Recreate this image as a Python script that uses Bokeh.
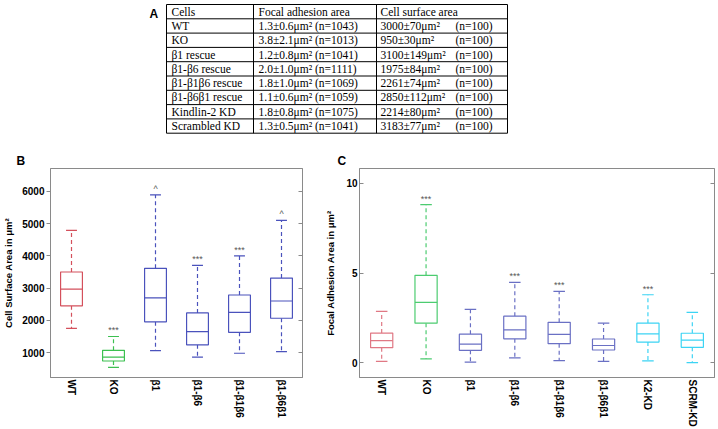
from bokeh.plotting import figure
from bokeh.models import (Range1d, FactorRange, LinearAxis, FixedTicker,
                          ColumnDataSource, CustomJSTickFormatter)
from bokeh.layouts import column, row
from bokeh.embed import file_html
from bokeh.resources import INLINE
from bokeh.core.properties import value

# ---------------- Data ----------------
# Table A
table_header = ["Cells", "Focal adhesion area", "Cell surface area"]
cells = ["WT", "KO", "β1 rescue", "β1-β6 rescue", "β1-β1β6 rescue",
         "β1-β6β1 rescue", "Kindlin-2 KD", "Scrambled KD"]
fa_area = ["1.3±0.6μm² (n=1043)", "3.8±2.1μm² (n=1013)", "1.2±0.8μm² (n=1041)",
           "2.0±1.0μm² (n=1111)", "1.8±1.0μm² (n=1069)", "1.1±0.6μm² (n=1059)",
           "1.8±0.8μm² (n=1075)", "1.3±0.5μm² (n=1041)"]
cs_area = ["3000±70μm²", "950±30μm²", "3100±149μm²", "1975±84μm²",
           "2261±74μm²", "2850±112μm²", "2214±80μm²", "3183±77μm²"]
cs_n = ["(n=100)"] * 8

# Panel B: cell surface area
b_cats = ["WT", "KO", "β1", "β1-β6", "β1-β1β6", "β1-β6β1"]
b_low = [1750, 540, 1060, 860, 980, 1030]
b_q1 = [2450, 740, 1955, 1240, 1630, 2065]
b_med = [2970, 860, 2700, 1650, 2250, 2600]
b_q3 = [3500, 1070, 3615, 2230, 2787, 3312]
b_high = [4790, 1500, 5890, 3705, 4000, 5100]
b_sig = ["", "***", "^", "***", "***", "^"]
b_colors = ["#d4505c", "#3cc050", "#4a52bc", "#4a52bc", "#4a52bc", "#4a52bc"]
b_ticks = [1000, 2000, 3000, 4000, 5000, 6000]

# Panel C: focal adhesion area
c_cats = ["WT", "KO", "β1", "β1-β6", "β1-β1β6", "β1-β6β1", "K2-KD", "SCRM-KD"]
c_low = [0.09, 0.22, 0.05, 0.28, 0.13, 0.09, 0.11, 0.02]
c_q1 = [0.85, 2.21, 0.70, 1.34, 1.07, 0.72, 1.16, 0.87]
c_med = [1.24, 3.37, 1.05, 1.84, 1.59, 0.97, 1.61, 1.27]
c_q3 = [1.66, 4.87, 1.60, 2.60, 2.26, 1.33, 2.21, 1.65]
c_high = [2.87, 8.80, 2.98, 4.48, 3.98, 2.21, 3.79, 2.81]
c_sig = ["", "***", "", "***", "***", "", "***", ""]
c_colors = ["#e07884", "#4ccc70", "#6a70c4", "#6a70c4", "#6a70c4", "#6a70c4",
            "#3cd4f4", "#3cd4f4"]
c_ticks = [0, 5, 10]

FONT = "Liberation Sans"
TOP_H = 150          # height of the table strip
FRAME_TOP = 167      # window y of the box-plot frames' top edge
FRAME_BOT = 377      # window y of the frames' bottom edge

# ---------------- Top figure: table A ----------------
t = figure(width=718, height=TOP_H, x_range=Range1d(0, 718), y_range=Range1d(TOP_H, 0),
           output_backend="svg", toolbar_location=None,
           x_axis_location=None, y_axis_location=None,
           min_border=0, min_border_left=0, min_border_right=0,
           min_border_top=0, min_border_bottom=0)
t.grid.visible = False
t.outline_line_color = None

tbl_left, tbl_c1, tbl_c2, tbl_right = 166, 253, 376, 507
tbl_top, row_h = 4.0, 14.3
n_rows = len(cells) + 1
ys = [tbl_top + i * row_h for i in range(n_rows + 1)]
t.segment(x0=[tbl_left] * len(ys), y0=ys, x1=[tbl_right] * len(ys), y1=ys,
          line_color="black", line_width=1)
xs = [tbl_left, tbl_c1, tbl_c2, tbl_right]
t.segment(x0=xs, y0=[ys[0]] * 4, x1=xs, y1=[ys[-1]] * 4, line_color="black", line_width=1)

rows_y = [tbl_top + (i + 0.5) * row_h for i in range(n_rows)]
col1 = [table_header[0]] + cells
col2 = [table_header[1]] + fa_area
col3 = [table_header[2]] + cs_area
tfont = dict(text_font=value("Liberation Serif"), text_font_size="11.5px",
             text_baseline="middle", text_color="black")
t.text(x=[tbl_left + 5] * n_rows, y=rows_y, text=col1, **tfont)
t.text(x=[tbl_c1 + 5] * n_rows, y=rows_y, text=col2, **tfont)
t.text(x=[tbl_c2 + 4] * n_rows, y=rows_y, text=col3, **tfont)
t.text(x=[455] * len(cs_n), y=rows_y[1:], text=cs_n, **tfont)

t.text(x=[149], y=[13], text=["A"],
       text_font=value(FONT), text_font_style="bold", text_font_size="12px",
       text_baseline="alphabetic", text_color="black")


# ---------------- Box plots ----------------
def boxplot(cats, low, q1, med, q3, high, sig, colors, yrange, ticks, ylabel,
            width, mbl, mbr, tick_out, tick_in, box_w, cap_w, ylabel_standoff,
            letter, letter_offset):
    p = figure(x_range=FactorRange(factors=cats, range_padding=0),
               y_range=Range1d(*yrange), width=width, height=429 - TOP_H,
               output_backend="svg", toolbar_location=None, title=letter,
               min_border_left=mbl, min_border_right=mbr,
               min_border_top=FRAME_TOP - TOP_H, min_border_bottom=429 - FRAME_BOT)
    p.title.align = "left"
    p.title.offset = letter_offset
    p.title.standoff = 2
    p.title.text_font = FONT
    p.title.text_font_style = "bold"
    p.title.text_font_size = "12px"
    p.title.text_color = "black"

    p.grid.visible = False
    p.outline_line_color = "#8a8a8a"
    p.outline_line_width = 1
    src = ColumnDataSource(dict(cat=cats, low=low, q1=q1, med=med, q3=q3,
                                high=high, color=colors))
    p.segment(x0="cat", y0="q3", x1="cat", y1="high", source=src,
              line_color="color", line_dash="4 3", line_width=1.2)
    p.segment(x0="cat", y0="q1", x1="cat", y1="low", source=src,
              line_color="color", line_dash="4 3", line_width=1.2)
    p.vbar(x="cat", top="q3", bottom="q1", width=box_w, source=src,
           fill_color="white", line_color="color", line_width=1.2)
    p.vbar(x="cat", top="med", bottom="med", width=box_w, source=src,
           fill_color=None, line_color="color", line_width=1.2)
    p.vbar(x="cat", top="high", bottom="high", width=cap_w, source=src,
           fill_color=None, line_color="color", line_width=1.2)
    p.vbar(x="cat", top="low", bottom="low", width=cap_w, source=src,
           fill_color=None, line_color="color", line_width=1.2)
    keep = [i for i, s in enumerate(sig) if s]
    p.text(x=[cats[i] for i in keep], y=[high[i] for i in keep],
           text=[sig[i] for i in keep], text_align="center",
           text_baseline="bottom", y_offset=-1, text_color="#555555",
           text_font=value(FONT), text_font_size="9px")

    xa = p.xaxis[0]
    xa.major_tick_line_color = None
    xa.minor_tick_line_color = None
    xa.major_tick_out = 0
    xa.major_tick_in = 0
    xa.axis_line_color = "#8a8a8a"
    xa.major_label_orientation = "vertical"
    xa.major_label_standoff = 2
    xa.major_label_text_font = FONT
    xa.major_label_text_font_style = "bold"
    xa.major_label_text_font_size = "10px"
    xa.major_label_text_color = "black"

    ya = p.yaxis[0]
    ya.ticker = FixedTicker(ticks=ticks)
    ya.minor_tick_line_color = None
    ya.axis_line_color = "#8a8a8a"
    ya.major_tick_line_color = "#8a8a8a"
    ya.major_tick_out = tick_out
    ya.major_tick_in = tick_in
    ya.major_label_standoff = 2
    ya.major_label_text_font = FONT
    ya.major_label_text_font_style = "bold"
    ya.major_label_text_font_size = "10px"
    ya.major_label_text_color = "black"
    ya.axis_label = ylabel
    ya.axis_label_text_font = FONT
    ya.axis_label_text_font_style = "bold"
    ya.axis_label_text_font_size = "9.5px"
    ya.axis_label_text_color = "black"
    ya.axis_label_standoff = ylabel_standoff

    ra = LinearAxis(ticker=FixedTicker(ticks=ticks),
                    formatter=CustomJSTickFormatter(code="return ''"))
    ra.major_label_standoff = 0
    ra.major_tick_in = 4
    ra.major_tick_out = 0
    ra.minor_tick_line_color = None
    ra.axis_line_color = "#8a8a8a"
    ra.major_tick_line_color = "#8a8a8a"
    p.add_layout(ra, "right")
    return p


# letter_offset: px from the frame's left edge (negative = left of it)
pB = boxplot(b_cats, b_low, b_q1, b_med, b_q3, b_high, b_sig, b_colors,
             (228, 6710), b_ticks, "Cell Surface Area in μm²",
             width=322, mbl=49, mbr=20, tick_out=4, tick_in=0,
             box_w=0.52, cap_w=0.26, ylabel_standoff=5,
             letter="B", letter_offset=15 - 49)
pC = boxplot(c_cats, c_low, c_q1, c_med, c_q3, c_high, c_sig, c_colors,
             (-0.81, 10.81), c_ticks, "Focal Adhesion Area in μm²",
             width=396, mbl=33, mbr=4, tick_out=0, tick_in=4,
             box_w=0.5, cap_w=0.26, ylabel_standoff=7,
             letter="C", letter_offset=333 - 355)

layout = column(t, row(pB, pC))
open("out.html", "w").write(file_html(layout, INLINE))
